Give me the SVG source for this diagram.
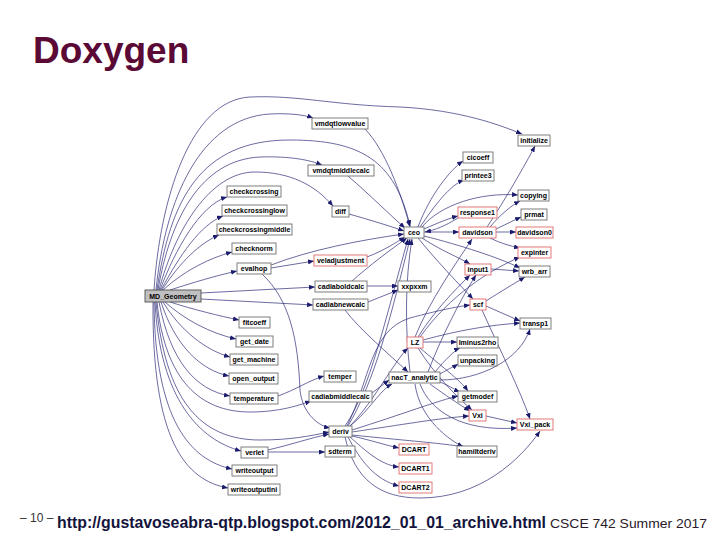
<svg xmlns="http://www.w3.org/2000/svg" width="720" height="540" viewBox="0 0 720 540">
<style>
.n rect{fill:#fff;stroke:#707070;stroke-width:0.9}
.n.r rect{stroke:#e06a6a}
.n.g rect{fill:#c0c0c0;stroke:#505050}
.n text{font-family:"Liberation Sans",Arial,sans-serif;font-size:7px;font-weight:bold;fill:#000;text-anchor:middle}
#edges path{fill:none;stroke:#2d2d78;stroke-width:0.7;marker-end:url(#a)}
</style>
<defs>
<marker id="a" viewBox="0 0 6 5" refX="6" refY="2.5" markerWidth="6" markerHeight="5" markerUnits="userSpaceOnUse" orient="auto">
<path d="M0,0 L6,2.5 L0,5 z" fill="#1c1c6e"/>
</marker>
</defs>
<rect width="720" height="540" fill="#fff"/>
<text x="33" y="63" font-family="Liberation Sans,Arial,sans-serif" font-size="37" font-weight="bold" fill="#5a0a35">Doxygen</text>

<g id="edges">
<path d="M154,290 C160,200 190,100 250,97 C300,95 330,105 400,107 C460,110 500,125 522,134"/>
<path d="M156,290 C165,200 200,118 270,114 C290,113 305,115 313,118"/>
<path d="M157,290 C170,200 200,140 290,140 C360,140 395,160 410,226"/>
<path d="M158,290 C170,220 200,160 260,157 C290,156 310,160 322,165"/>
<path d="M159,290 C175,230 210,172 255,172 C290,172 315,185 333,206"/>
<path d="M160,290 C175,250 200,205 227,197"/>
<path d="M161,290 C180,255 200,225 223,216"/>
<path d="M162,290 C180,262 200,243 219,235"/>
<path d="M163,290 C185,270 210,258 232,252"/>
<path d="M170,290 C195,282 215,276 237,271"/>
<path d="M201,293 L315,287"/>
<path d="M201,299 L313,305"/>
<path d="M170,302 C195,310 220,316 239,320"/>
<path d="M165,302 C185,320 210,333 236,339"/>
<path d="M163,302 C180,330 205,350 230,357"/>
<path d="M161,302 C175,345 200,370 229,376"/>
<path d="M159,302 C170,360 195,390 230,396"/>
<path d="M157,302 C165,380 200,412 250,412 C280,412 300,405 311,401"/>
<path d="M156,302 C165,400 200,440 260,440 C290,440 310,436 329,432"/>
<path d="M155,302 C160,400 200,440 241,451"/>
<path d="M154,302 C155,420 190,460 232,469"/>
<path d="M153,302 C152,440 185,480 228,488"/>
<path d="M271,268 L314,261"/>
<path d="M271,265 C310,250 360,240 404,234"/>
<path d="M262,274 C290,300 298,340 300,390 C302,410 315,425 330,428"/>
<path d="M367,257 C385,250 395,243 405,237"/>
<path d="M352,281 C370,265 390,250 407,238"/>
<path d="M367,286 L398,286"/>
<path d="M368,302 L398,290"/>
<path d="M345,310 C360,330 390,355 408,372"/>
<path d="M278,396 C295,390 310,380 324,376"/>
<path d="M372,393 L389,380"/>
<path d="M365,129 C385,150 400,190 410,227"/>
<path d="M348,176 C370,195 390,215 405,228"/>
<path d="M349,214 C370,220 390,226 404,231"/>
<path d="M418,227 C430,195 450,170 463,161"/>
<path d="M420,227 C435,205 450,185 464,180"/>
<path d="M422,227 C440,205 480,192 518,195"/>
<path d="M424,229 C440,222 450,218 458,216"/>
<path d="M458,218 C445,226 435,230 425,232"/>
<path d="M424,232 L459,232"/>
<path d="M422,238 C440,250 460,258 470,264"/>
<path d="M424,236 C460,245 500,258 520,268"/>
<path d="M418,238 C440,265 460,285 473,299"/>
<path d="M487,227 C505,200 525,165 535,146"/>
<path d="M490,227 C500,215 512,205 520,201"/>
<path d="M496,229 L521,217"/>
<path d="M496,232 L516,232"/>
<path d="M490,238 C500,243 510,246 520,248"/>
<path d="M491,269 L519,271"/>
<path d="M486,301 C500,292 515,283 525,277"/>
<path d="M486,306 L520,321"/>
<path d="M482,310 C500,350 520,390 530,419"/>
<path d="M423,342 L457,342"/>
<path d="M423,340 C460,330 490,325 520,323"/>
<path d="M420,348 C440,365 460,380 468,391"/>
<path d="M418,348 C435,375 455,395 472,410"/>
<path d="M415,337 C430,300 455,265 472,239"/>
<path d="M418,337 C435,310 455,290 470,275"/>
<path d="M420,337 C450,295 490,270 520,257"/>
<path d="M410,372 C405,330 405,280 412,239"/>
<path d="M428,372 C440,340 460,300 476,275"/>
<path d="M440,374 C450,368 455,366 458,364"/>
<path d="M435,372 C445,360 455,350 460,348"/>
<path d="M440,380 C480,380 520,360 530,329"/>
<path d="M440,382 C450,386 455,390 460,392"/>
<path d="M430,384 C445,395 460,405 470,411"/>
<path d="M420,384 C430,410 460,432 517,428"/>
<path d="M415,384 C420,420 450,440 463,447"/>
<path d="M345,426 C370,390 385,320 408,239"/>
<path d="M348,426 C375,380 390,320 410,239"/>
<path d="M350,426 C370,410 380,390 392,384"/>
<path d="M350,426 C375,400 395,360 408,348"/>
<path d="M347,426 C370,380 370,330 410,318 C440,310 455,307 470,305"/>
<path d="M352,430 C400,415 440,400 458,396"/>
<path d="M352,432 C400,425 440,418 469,416"/>
<path d="M352,435 C400,440 440,443 465,447"/>
<path d="M352,436 C370,440 385,445 399,448"/>
<path d="M350,437 C365,450 380,465 399,467"/>
<path d="M348,437 C360,460 375,480 399,486"/>
<path d="M345,437 C355,480 380,498 420,498 C480,498 520,460 540,431"/>
<path d="M486,416 L517,423"/>
<path d="M268,450 C290,445 310,438 329,434"/>
<path d="M268,452 L325,452"/>
</g>

<g id="MD_Geometry" class="n g"><rect x="145" y="290" width="56" height="12"/><text x="173" y="298.5">MD_Geometry</text></g>
<g id="vmdqtlowvalue" class="n"><rect x="312" y="118" width="56" height="11"/><text x="340" y="126">vmdqtlowvalue</text></g>
<g id="initialize" class="n"><rect x="518" y="135" width="32" height="11"/><text x="534" y="143">initialize</text></g>
<g id="vmdqtmiddlecalc" class="n"><rect x="308" y="165" width="66" height="11"/><text x="341" y="173">vmdqtmiddlecalc</text></g>
<g id="cicoeff" class="n"><rect x="463" y="152" width="30" height="11"/><text x="478" y="160">cicoeff</text></g>
<g id="printee3" class="n"><rect x="462" y="170" width="32" height="11"/><text x="478" y="178">printee3</text></g>
<g id="copying" class="n"><rect x="518" y="190" width="31" height="11"/><text x="533.5" y="198">copying</text></g>
<g id="checkcrossing" class="n"><rect x="227" y="186" width="54" height="11"/><text x="254" y="194">checkcrossing</text></g>
<g id="diff" class="n"><rect x="332" y="206" width="17" height="11"/><text x="340.5" y="214">diff</text></g>
<g id="response1" class="n r"><rect x="458" y="207" width="39" height="11"/><text x="477.5" y="215">response1</text></g>
<g id="prmat" class="n"><rect x="521" y="209" width="26" height="11"/><text x="534" y="217">prmat</text></g>
<g id="checkcrossinglow" class="n"><rect x="222" y="205" width="65" height="11"/><text x="254.5" y="213">checkcrossinglow</text></g>
<g id="checkcrossingmiddle" class="n"><rect x="217" y="224" width="75" height="11"/><text x="254.5" y="232">checkcrossingmiddle</text></g>
<g id="ceo" class="n"><rect x="404" y="227" width="20" height="11"/><text x="414" y="235">ceo</text></g>
<g id="davidson" class="n r"><rect x="459" y="227" width="37" height="11"/><text x="477.5" y="235">davidson</text></g>
<g id="davidson0" class="n r"><rect x="516" y="227" width="37" height="11"/><text x="534.5" y="235">davidson0</text></g>
<g id="checknorm" class="n"><rect x="232" y="243" width="44" height="11"/><text x="254" y="251">checknorm</text></g>
<g id="expinter" class="n r"><rect x="518" y="247" width="33" height="11"/><text x="534.5" y="255">expinter</text></g>
<g id="veladjustment" class="n r"><rect x="314" y="255" width="53" height="11"/><text x="340.5" y="263">veladjustment</text></g>
<g id="evalhop" class="n"><rect x="237" y="263" width="34" height="11"/><text x="254" y="271">evalhop</text></g>
<g id="input1" class="n r"><rect x="465" y="264" width="26" height="11"/><text x="478" y="272">input1</text></g>
<g id="wrb_arr" class="n"><rect x="519" y="266" width="31" height="11"/><text x="534.5" y="274">wrb_arr</text></g>
<g id="cadiaboldcalc" class="n"><rect x="315" y="281" width="52" height="11"/><text x="341" y="289">cadiaboldcalc</text></g>
<g id="xxpxxm" class="n"><rect x="398" y="281" width="33" height="11"/><text x="414.5" y="289">xxpxxm</text></g>
<g id="cadiabnewcalc" class="n"><rect x="313" y="299" width="55" height="11"/><text x="340.5" y="307">cadiabnewcalc</text></g>
<g id="scf" class="n r"><rect x="470" y="299" width="16" height="11"/><text x="478" y="307">scf</text></g>
<g id="fitcoeff" class="n"><rect x="239" y="317" width="31" height="11"/><text x="254.5" y="325">fitcoeff</text></g>
<g id="transp1" class="n"><rect x="520" y="318" width="31" height="11"/><text x="535.5" y="326">transp1</text></g>
<g id="get_date" class="n"><rect x="236" y="336" width="37" height="11"/><text x="254.5" y="344">get_date</text></g>
<g id="LZ" class="n r"><rect x="407" y="337" width="16" height="11"/><text x="415" y="345">LZ</text></g>
<g id="lminus2rho" class="n"><rect x="457" y="337" width="41" height="11"/><text x="477.5" y="345">lminus2rho</text></g>
<g id="get_machine" class="n"><rect x="230" y="354" width="48" height="11"/><text x="254" y="362">get_machine</text></g>
<g id="unpacking" class="n"><rect x="458" y="355" width="39" height="11"/><text x="477.5" y="363">unpacking</text></g>
<g id="open_output" class="n"><rect x="229" y="373" width="49" height="11"/><text x="253.5" y="381">open_output</text></g>
<g id="temper" class="n"><rect x="324" y="371" width="32" height="11"/><text x="340" y="379">temper</text></g>
<g id="nacT_analytic" class="n"><rect x="389" y="372" width="51" height="11"/><text x="414.5" y="380">nacT_analytic</text></g>
<g id="temperature" class="n"><rect x="230" y="393" width="48" height="11"/><text x="254" y="401">temperature</text></g>
<g id="cadiabmiddlecalc" class="n"><rect x="309" y="391" width="63" height="11"/><text x="340.5" y="399">cadiabmiddlecalc</text></g>
<g id="getmodef" class="n"><rect x="458" y="391" width="39" height="11"/><text x="477.5" y="399">getmodef</text></g>
<g id="Vxi" class="n r"><rect x="469" y="410" width="17" height="11"/><text x="477.5" y="418">Vxi</text></g>
<g id="Vxi_pack" class="n r"><rect x="517" y="419" width="36" height="11"/><text x="535" y="427">Vxi_pack</text></g>
<g id="deriv" class="n"><rect x="329" y="426" width="23" height="11"/><text x="340.5" y="434">deriv</text></g>
<g id="verlet" class="n"><rect x="241" y="447" width="27" height="11"/><text x="254.5" y="455">verlet</text></g>
<g id="sdterm" class="n"><rect x="325" y="446" width="30" height="11"/><text x="340" y="454">sdterm</text></g>
<g id="hamiltderiv" class="n"><rect x="457" y="446" width="40" height="11"/><text x="477" y="454">hamiltderiv</text></g>
<g id="DCART" class="n r"><rect x="399" y="444" width="30" height="11"/><text x="414" y="452">DCART</text></g>
<g id="writeoutput" class="n"><rect x="232" y="465" width="45" height="11"/><text x="254.5" y="473">writeoutput</text></g>
<g id="DCART1" class="n r"><rect x="399" y="463" width="33" height="11"/><text x="415.5" y="471">DCART1</text></g>
<g id="DCART2" class="n r"><rect x="399" y="482" width="33" height="11"/><text x="415.5" y="490">DCART2</text></g>
<g id="writeoutputini" class="n"><rect x="228" y="484" width="52" height="11"/><text x="254" y="492">writeoutputini</text></g>

<text x="20" y="522" font-family="Liberation Sans,Arial,sans-serif" font-size="12" fill="#333">– 10 –</text>
<text x="57" y="528" font-family="Liberation Sans,Arial,sans-serif" font-size="16" font-weight="bold" fill="#14143c" textLength="489" lengthAdjust="spacingAndGlyphs">http://gustavoseabra-qtp.blogspot.com/2012_01_01_archive.html</text>
<text x="550" y="528" font-family="Liberation Sans,Arial,sans-serif" font-size="13" fill="#2a1a2a" textLength="157" lengthAdjust="spacingAndGlyphs">CSCE 742 Summer 2017</text>
</svg>
